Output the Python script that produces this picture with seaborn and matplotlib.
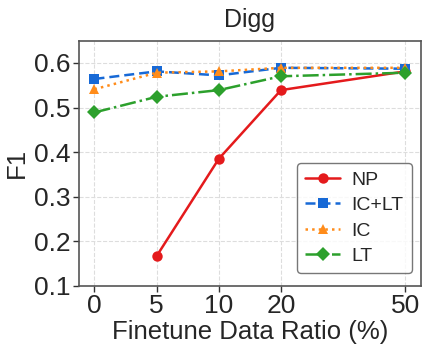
import numpy as np
import pandas as pd
import matplotlib
matplotlib.use("Agg")
import matplotlib.pyplot as plt
import seaborn as sns

# Data
ratios = ["0", "5", "10", "20", "50"]
positions = [0, 1, 2, 3, 5]
np_vals = [np.nan, 0.167, 0.385, 0.539, 0.581]
iclt_vals = [0.564, 0.581, 0.572, 0.589, 0.587]
ic_vals = [0.541, 0.578, 0.581, 0.589, 0.589]
lt_vals = [0.489, 0.524, 0.539, 0.570, 0.578]

methods = ["NP", "IC+LT", "IC", "LT"]
colors = ["#e41a1c", "#1769d6", "#ff8c1a", "#2ca02c"]
markers = ["o", "s", "^", "D"]
styles = ["-", (0, (4, 2)), ":", "-."]

df = pd.DataFrame({
    "pos": positions * 4,
    "F1": np_vals + iclt_vals + ic_vals + lt_vals,
    "method": [m for m in methods for _ in positions],
})

sns.set_style("whitegrid")
plt.rcParams["font.family"] = ["Liberation Sans", "DejaVu Sans"]

fig = plt.figure(figsize=(4.29, 3.53), dpi=100)
ax = fig.add_axes([0.184, 0.19, 0.797, 0.695])

for m, c, mk, ls in zip(methods, colors, markers, styles):
    sub = df[df["method"] == m].dropna()
    sns.lineplot(data=sub, x="pos", y="F1", ax=ax, color=c, marker=mk,
                 linestyle=ls, linewidth=1.8, markersize=7.5,
                 markeredgewidth=0, label=m)

ax.set_xlim(-0.25, 5.25)
ax.set_ylim(0.1, 0.65)
ax.set_xticks(positions)
ax.set_xticklabels(ratios)
ax.set_yticks([0.1, 0.2, 0.3, 0.4, 0.5, 0.6])
ax.tick_params(axis="both", labelsize=19, length=4, width=1, pad=2,
               left=True, bottom=True, color="#333333")
ax.grid(True, linestyle="--", color="#dddddd", linewidth=0.8)
for s in ax.spines.values():
    s.set_color("#555555")
    s.set_linewidth(1.2)

ax.set_title("Digg", fontsize=18, pad=10)
ax.set_xlabel("Finetune Data Ratio (%)", fontsize=18.5, labelpad=1)
ax.set_ylabel("F1", fontsize=18.5, labelpad=4)

leg = ax.legend(loc="lower right", fontsize=14, frameon=True, fancybox=True,
                handlelength=1.8, handletextpad=0.6, borderpad=0.4,
                labelspacing=0.4, borderaxespad=0.3,
                bbox_to_anchor=(0.99, 0.03))
leg.get_frame().set_edgecolor("#555555")
leg.get_frame().set_linewidth(1.0)

fig.savefig("out.png", dpi=100)
